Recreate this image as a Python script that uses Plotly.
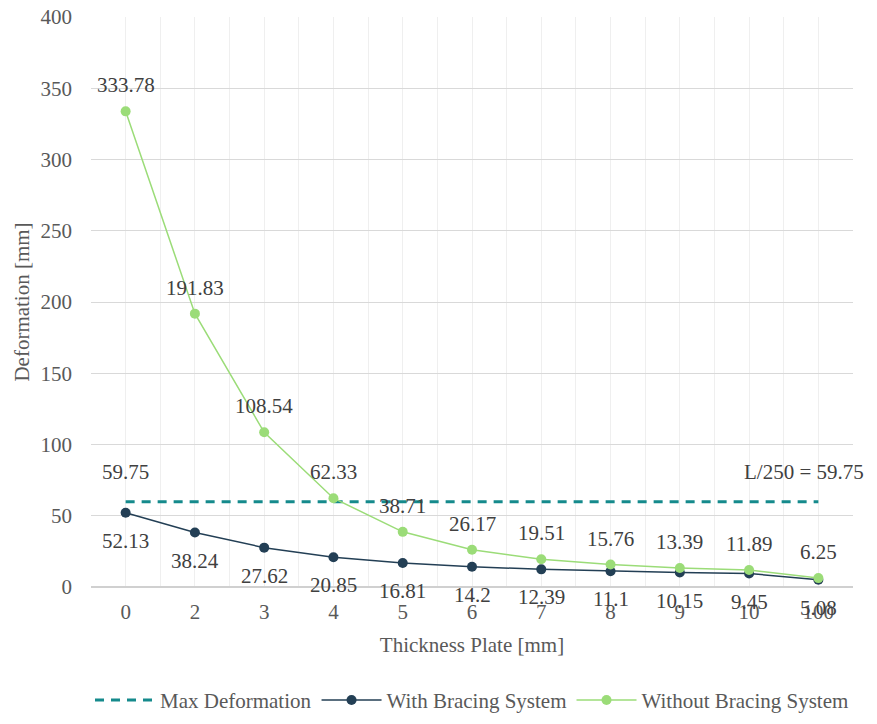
import plotly.graph_objects as go

categories = ["0", "2", "3", "4", "5", "6", "7", "8", "9", "10", "100"]
with_bracing = [52.13, 38.24, 27.62, 20.85, 16.81, 14.2, 12.39, 11.1, 10.15, 9.45, 5.08]
without_bracing = [333.78, 191.83, 108.54, 62.33, 38.71, 26.17, 19.51, 15.76, 13.39, 11.89, 6.25]
max_def = [59.75] * len(categories)
y_ticks = [0, 50, 100, 150, 200, 250, 300, 350, 400]

xi = list(range(len(categories)))
FONT = "Liberation Serif"
GRAY = "#595959"
FS = 21

fig = go.Figure()
fig.add_trace(go.Scatter(x=xi, y=max_def, mode="lines", name="Max Deformation",
                         line=dict(color="#158a8c", width=3, dash="9px,7px")))
fig.add_trace(go.Scatter(x=xi, y=with_bracing, mode="lines+markers", name="With Bracing System",
                         line=dict(color="#233f55", width=1.5),
                         marker=dict(color="#233f55", size=10)))
fig.add_trace(go.Scatter(x=xi, y=without_bracing, mode="lines+markers", name="Without Bracing System",
                         line=dict(color="#9bdc78", width=1.5),
                         marker=dict(color="#9bdc78", size=10)))

anns = []
for i, v in enumerate(without_bracing):
    anns.append(dict(x=i, y=v, text=str(v), showarrow=False, yshift=26,
                     font=dict(family=FONT, size=FS, color="#404040")))
for i, v in enumerate(with_bracing):
    anns.append(dict(x=i, y=v, text=str(v), showarrow=False, yshift=-28,
                     font=dict(family=FONT, size=FS, color="#404040")))
anns.append(dict(x=0, y=max_def[0], text=str(max_def[0]), showarrow=False, yshift=30,
                 font=dict(family=FONT, size=FS, color="#404040")))
anns.append(dict(x=len(categories) - 1, y=max_def[-1], text="L/250 = " + str(max_def[-1]),
                 showarrow=False, yshift=30, xanchor="right", xshift=48,
                 font=dict(family=FONT, size=FS, color="#404040")))

fig.update_layout(
    width=861, height=708,
    margin=dict(l=83, r=16, t=9, b=129, autoexpand=False),
    paper_bgcolor="white", plot_bgcolor="white",
    font=dict(family=FONT, size=FS, color=GRAY),
    showlegend=True,
    legend=dict(orientation="h", x=0.5, xanchor="center", y=-0.199, yanchor="middle",
                font=dict(family=FONT, size=FS, color=GRAY), itemwidth=60,
                tracegroupgap=0),
    annotations=anns,
    xaxis=dict(
        range=[-0.5, len(categories) - 0.5],
        tickmode="array", tickvals=xi, ticktext=categories,
        showgrid=True, gridcolor="#efefef", gridwidth=1,
        minor=dict(tickmode="array", tickvals=[i - 0.5 for i in range(len(categories) + 1)],
                   showgrid=True, gridcolor="#efefef", gridwidth=1),
        zeroline=False, showline=False, automargin=False,
        ticklabelstandoff=10, ticklabeloverflow="allow",
        title=dict(text="Thickness Plate [mm]", standoff=14,
                   font=dict(family=FONT, size=FS, color=GRAY)),
        tickfont=dict(family=FONT, size=FS, color=GRAY),
    ),
    yaxis=dict(
        range=[0, 400], tickmode="array", tickvals=y_ticks,
        showgrid=True, gridcolor="#d9d9d9", gridwidth=1,
        zeroline=True, zerolinecolor="#d0d0d0", zerolinewidth=1.5,
        showline=False, automargin=False,
        ticklabelstandoff=18, ticklabeloverflow="allow",
        title=dict(text="Deformation [mm]", standoff=5,
                   font=dict(family=FONT, size=FS, color=GRAY)),
        tickfont=dict(family=FONT, size=FS, color=GRAY),
    ),
)

fig.write_html("out.html")
